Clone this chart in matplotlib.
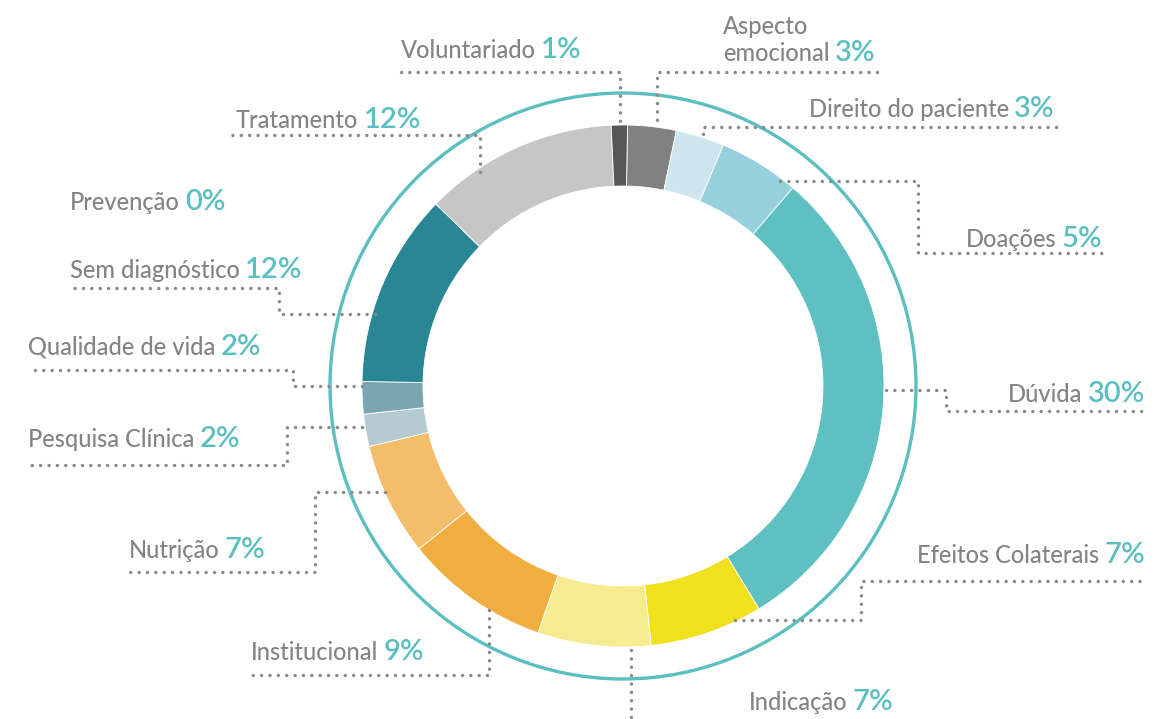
import matplotlib
matplotlib.use('Agg')
import matplotlib.pyplot as plt
from matplotlib.patches import Circle

# data
labels = ['Aspecto\nemocional', 'Direito do paciente', 'Doações', 'Dúvida',
          'Efeitos Colaterais', 'Indicação', 'Institucional', 'Nutrição',
          'Pesquisa Clínica', 'Qualidade de vida', 'Sem diagnóstico',
          'Prevenção', 'Tratamento', 'Voluntariado']
values = [3, 3, 5, 30, 7, 7, 9, 7, 2, 2, 12, 0, 12, 1]
colors = ['#818181', '#cde6ee', '#98d0dd', '#5ec0c1', '#f0e11e', '#f6ec8f',
          '#f0ad40', '#f3bd69', '#b6cad1', '#7aa5b1', '#288695', '#5a8f9a',
          '#c6c6c6', '#575757']

GRAY = '#848484'
TEAL = '#5bbfc0'
FONT = ['Lato', 'DejaVu Sans']

fig = plt.figure(figsize=(11.72, 7.19), dpi=100)
ax = fig.add_axes([0, 0, 1, 1])

cx, cy, R = 623, 386, 261
ax.pie(values, colors=colors, center=(cx, cy), radius=R, startangle=271,
       counterclock=True,  # y axis is flipped, so this runs clockwise on screen
       wedgeprops=dict(width=61, edgecolor='white', linewidth=0.6))
ax.add_patch(Circle((cx, cy), 293, fill=False, edgecolor=TEAL, lw=2.4))

ax.set_xlim(0, 1172)
ax.set_ylim(719, 0)
ax.set_aspect('auto')
ax.axis('off')

# label placement: x, baseline y, which side of the text x sits on
places = {
    0: (723, 61, 'left'),
    1: (1055, 117, 'right'),
    2: (1102, 247, 'right'),
    3: (1145, 402, 'right'),
    4: (1145, 563, 'right'),
    5: (749, 710, 'left'),
    6: (251, 660, 'left'),
    7: (129, 558, 'left'),
    8: (28, 447, 'left'),
    9: (28, 355, 'left'),
    10: (70, 278, 'left'),
    11: (70, 210, 'left'),
    12: (236, 128, 'left'),
    13: (401, 58, 'left'),
}

# dotted leader lines
leaders = [
    [(401, 72), (620, 72), (620, 123)],
    [(877, 72), (657, 72), (657, 125)],
    [(1056, 127), (703, 127), (703, 136)],
    [(780, 181), (918, 181), (918, 253), (1103, 253)],
    [(886, 390), (946, 390), (946, 411), (1145, 411)],
    [(735, 620), (861, 620), (861, 581), (1146, 581)],
    [(631, 650), (631, 719)],
    [(489, 610), (489, 675), (251, 675)],
    [(385, 492), (315, 492), (315, 572), (129, 572)],
    [(362, 427), (287, 427), (287, 465), (28, 465)],
    [(362, 386), (293, 386), (293, 370), (28, 370)],
    [(375, 314), (279, 314), (279, 288), (70, 288)],
    [(480, 172), (480, 135), (232, 135)],
]
for pts in leaders:
    xs = [p[0] for p in pts]
    ys = [p[1] for p in pts]
    ax.plot(xs, ys, color='#8a8a8a', lw=2.5, linestyle=(0, (0.01, 2.4)),
            dash_capstyle='round', solid_capstyle='round')

renderer = fig.canvas.get_renderer()
inv = ax.transData.inverted()
name_size, pct_size = 17, 21

for i, lab in enumerate(labels):
    x, y, side = places[i]
    pct = f'{values[i]}%'
    last = lab.split('\n')[-1]
    if side == 'left':
        t = ax.text(x, y, last, ha='left', va='baseline', fontsize=name_size,
                    color=GRAY, family=FONT, weight='medium')
        bb = t.get_window_extent(renderer)
        xe = inv.transform((bb.x1, bb.y0))[0]
        ax.text(xe + 5, y, pct, ha='left', va='baseline', fontsize=pct_size,
                color=TEAL, family=FONT, weight='semibold')
    else:
        t = ax.text(x, y, pct, ha='right', va='baseline', fontsize=pct_size,
                    color=TEAL, family=FONT, weight='semibold')
        bb = t.get_window_extent(renderer)
        xs = inv.transform((bb.x0, bb.y0))[0]
        ax.text(xs - 5, y, last, ha='right', va='baseline', fontsize=name_size,
                color=GRAY, family=FONT, weight='medium')
    if '\n' in lab:
        ax.text(x, y - 27, lab.split('\n')[0], ha='left', va='baseline',
                fontsize=name_size, color=GRAY, family=FONT, weight='medium')

fig.savefig('out.png', dpi=100)
